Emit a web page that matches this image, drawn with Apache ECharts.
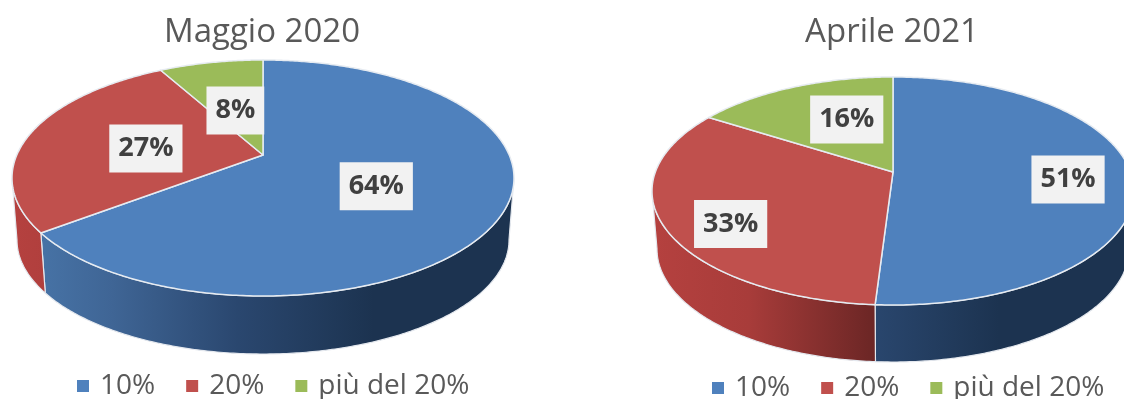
<!DOCTYPE html>
<html><head><meta charset="utf-8">
<style>html,body{margin:0;padding:0;background:#fff}#c{width:1124px;height:399px}</style>
<script src="https://cdn.jsdelivr.net/npm/echarts@6/dist/echarts.min.js"></script>
</head><body><div id="c"></div>
<script>
// ---- data ----
const categories = ['10%', '20%', 'più del 20%'];
const maggio2020 = [64, 27, 8];
const aprile2021 = [51, 33, 16];
const titles = ['Maggio 2020', 'Aprile 2021'];

// ---- styles ----
const FONT = '"Open Sans","Noto Sans",sans-serif';
const topColors = ['#4f81bd', '#c0504d', '#9bbb59'];
const wallStops = [0, 0.2, 0.45, 0.72];
const wallColors = [['#4a78ac', '#3f6595', '#2a476f', '#1c3350'], ['#b5413f', '#a83c3a', '#6e2726', '#6c2624'], ['#7d9a45', '#6a833a', '#4c5f2a', '#4c5f2a']];

// ---- layout of the two discs ----
const pies = [
  { values: maggio2020, cx: 263, cy: 178, rx: 251, ry: 118, k: -0.195,
    low: { cx: 263, cy: 240, rx: 246, ry: 114 },
    labelR: [0.5, 0.5, 0.45], labelShift: [[-2, 5], [1, 5], [-2, 1]] },
  { values: aprile2021, cx: 893, cy: 191, rx: 241, ry: 114, k: -0.167,
    low: { cx: 893, cy: 249, rx: 236, ry: 113 },
    labelR: [0.73, 0.75, 0.55], labelShift: [[1, 5], [6, 12], [12, -3]] }
];

function project(e, k, u, v) {
  const w = 1 + k * v, s = Math.sqrt(1 - k * k);
  return [e.cx + e.rx * u * s / w, e.cy + e.ry * (v + k) / w];
}
function rimY(k, t) { return (-Math.cos(t) + k) / (1 + k * -Math.cos(t)); }

function sliceRender(pie, idx) {
  const total = pie.values.reduce((a, b) => a + b, 0);
  const before = pie.values.slice(0, idx).reduce((a, b) => a + b, 0);
  return function (params, api) {
    const v = api.value(0);
    const t1 = before / total * 2 * Math.PI, t2 = (before + v) / total * 2 * Math.PI;
    const n = Math.max(8, Math.ceil((t2 - t1) * 90));
    const ts = [];
    for (let i = 0; i <= n; i++) ts.push(t1 + (t2 - t1) * i / n);
    const top = t => project(pie, pie.k, Math.sin(t), -Math.cos(t));
    const bot = t => project(pie.low, pie.k, Math.sin(t), -Math.cos(t));
    const vis = ts.filter(t => rimY(pie.k, t) >= -0.01);
    const children = [];
    if (vis.length > 1) {
      children.push({
        type: 'polygon', z2: 1,
        shape: { points: vis.map(top).concat(vis.slice().reverse().map(bot)) },
        style: {
          fill: new echarts.graphic.LinearGradient(pie.cx - pie.rx, 0, pie.cx + pie.rx, 0,
            wallColors[idx].map((c, i) => ({ offset: wallStops[i], color: c })), true),
          stroke: '#e4e8ee', lineWidth: 1.2
        }
      });
    }
    children.push({
      type: 'polygon', z2: 5,
      shape: { points: [project(pie, pie.k, 0, 0)].concat(ts.map(top)) },
      style: { fill: topColors[idx], stroke: '#e6ebf1', lineWidth: 1.5, lineJoin: 'round' }
    });
    const tm = (t1 + t2) / 2, r = pie.labelR[idx], sh = pie.labelShift[idx];
    const p = project(pie, pie.k, r * Math.sin(tm), -r * Math.cos(tm));
    children.push({
      type: 'text', z2: 20,
      style: {
        text: v + '%', x: p[0] + sh[0], y: p[1] + sh[1], align: 'center', verticalAlign: 'middle',
        fill: '#404040', font: 'bold 27px ' + FONT,
        backgroundColor: '#f2f2f2', padding: [10, 9, 11, 9]
      }
    });
    return { type: 'group', children };
  };
}

const series = [];
pies.forEach(pie => {
  pie.values.forEach((val, i) => {
    series.push({
      type: 'custom', name: categories[i], coordinateSystem: 'none', silent: true,
      animation: false, clip: false, z: 2,
      itemStyle: { color: topColors[i] },
      renderItem: sliceRender(pie, i),
      data: [val]
    });
  });
});

const legendBase = {
  data: categories, icon: 'rect', itemWidth: 12, itemHeight: 12, itemGap: 31, orient: 'horizontal',
  selectedMode: false,
  textStyle: { color: '#595959', fontSize: 28, fontFamily: FONT, padding: [0, 0, 0, 6] }
};

echarts.init(document.getElementById('c'), null, { renderer: 'canvas' }).setOption({
  backgroundColor: '#ffffff',
  animation: false,
  title: [
    { text: titles[0], left: 257, top: 11, textAlign: 'center', textStyle: { color: '#595959', fontSize: 33, fontWeight: 'normal', fontFamily: FONT } },
    { text: titles[1], left: 887, top: 11, textAlign: 'center', textStyle: { color: '#595959', fontSize: 33, fontWeight: 'normal', fontFamily: FONT } }
  ],
  legend: [
    Object.assign({}, legendBase, { left: 72, top: 367 }),
    Object.assign({}, legendBase, { left: 707, top: 369 })
  ],
  series
});
</script></body></html>
